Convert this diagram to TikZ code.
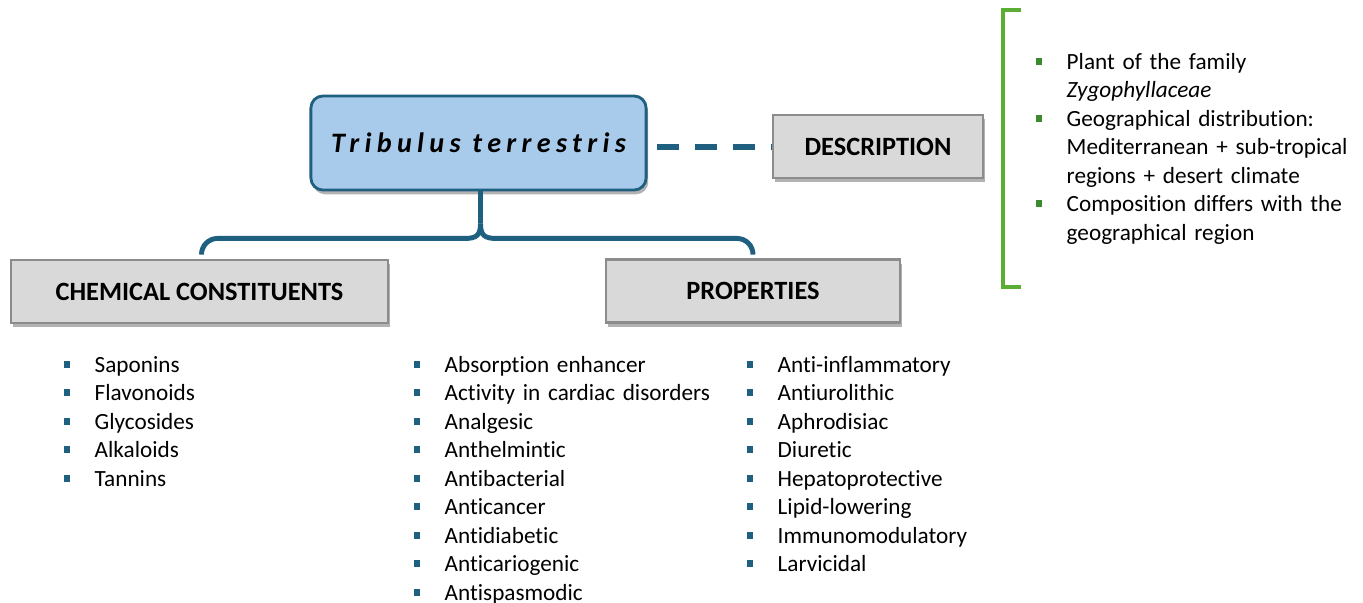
\documentclass[tikz,border=0pt]{standalone}
\usepackage{fontspec}
\setmainfont{Carlito}[RawFeature={-liga;-clig}]
\usetikzlibrary{shadows,calc}

\definecolor{titlefill}{HTML}{A9CBEB}
\definecolor{darkblue}{HTML}{1F5F80}
\definecolor{boxgray}{HTML}{D9D9D9}
\definecolor{boxline}{HTML}{8C8C8C}
\definecolor{brgreen}{HTML}{5BAE33}
\definecolor{bulgreen}{HTML}{3C8A2E}

\newenvironment{sqlist}[1]{%
  \begin{list}{\textcolor{#1}{\raisebox{1.3pt}{\rule{1.9pt}{1.9pt}}}}{%
    \setlength\leftmargin{0.31cm}\setlength\labelwidth{1.9pt}%
    \setlength\labelsep{\dimexpr0.31cm-1.9pt\relax}%
    \setlength\itemsep{0pt}\setlength\parsep{0pt}%
    \setlength\topsep{0pt}\setlength\partopsep{0pt}}}%
  {\end{list}}

\tikzset{
  boxshadow/.style={drop shadow={shadow xshift=0.6pt, shadow yshift=-1.2pt, fill=black!60, opacity=0.5}},
  titlebox/.style={draw=darkblue, fill=titlefill, line width=0.8pt, rounded corners=0.12cm,
    minimum width=3.35cm, minimum height=0.94cm, boxshadow,
    font=\fontsize{8pt}{9.5pt}\selectfont\bfseries\itshape\addfontfeature{LetterSpace=19}},
  headbox/.style={draw=boxline, fill=boxgray, line width=0.6pt, minimum height=0.63cm,
    boxshadow, font=\fontsize{7.5pt}{9pt}\selectfont\bfseries},
  listtext/.style={anchor=north west, inner sep=0pt, text width=3.2cm, align=left,
    font=\fontsize{6.6pt}{8.1pt}\selectfont},
  dashline/.style={darkblue, line width=1.7pt, dash pattern=on 0.22cm off 0.16cm},
  forkline/.style={darkblue, line width=1.4pt},
  greenbracket/.style={brgreen, line width=1.4pt, miter limit=10}
}

\begin{document}
\begin{tikzpicture}[x=0.01cm, y=-0.01cm]

\useasboundingbox (0,0) rectangle (1363,602);

% Titre
\node[titlebox] (tt) at (478.5,143) {Tribulus terrestris};

% Boites
\node[headbox, minimum width=2.10cm] (desc) at (878,146.5) {DESCRIPTION};
\node[headbox, minimum width=3.77cm] (chem) at (199.5,291.5) {CHEMICAL CONSTITUENTS};
\node[headbox, minimum width=2.94cm] (prop) at (753,291) {PROPERTIES};

% Liaison description
\draw[dashline] ($(tt.east |- desc.west)+(9,0)$) -- (desc.west);

% Accolade
\coordinate (fork) at ($(tt.south)+(2,32)$);
\draw[forkline] (tt.south -| fork) -- (fork);
\draw[forkline] (fork) .. controls +(0,12) and +(12,0) .. ++(-16,15)
  [rounded corners=0.16cm] -| ($(chem.north)+(2,-5)$);
\draw[forkline] (fork) .. controls +(0,12) and +(-12,0) .. ++(16,15)
  [rounded corners=0.16cm] -| ($(prop.north)+(0,-5)$);

% Crochet vert
\draw[greenbracket] (1021,10) -- (1003,10) -- (1003,287) -- (1021,287);

% Description
\node[listtext, text width=3.2cm] (descl) at (1035,40) {%
  \begin{sqlist}{bulgreen}
  \item Plant of the family\\ \textit{Zygophyllaceae}
  \item Geographical distribution:\\ Mediterranean + sub-tropical\\ regions + desert climate
  \item Composition differs with the\\ geographical region
  \end{sqlist}};

% Constituants
\node[listtext] (chemlist) at (63,343) {%
  \begin{sqlist}{darkblue}
  \item Saponins
  \item Flavonoids
  \item Glycosides
  \item Alkaloids
  \item Tannins
  \end{sqlist}};

% Proprietes
\node[listtext] (proplist) at (413,343) {%
  \begin{sqlist}{darkblue}
  \item Absorption enhancer
  \item Activity in cardiac disorders
  \item Analgesic
  \item Anthelmintic
  \item Antibacterial
  \item Anticancer
  \item Antidiabetic
  \item Anticariogenic
  \item Antispasmodic
  \end{sqlist}};

\node[listtext] (proplist2) at (746,343) {%
  \begin{sqlist}{darkblue}
  \item Anti-inflammatory
  \item Antiurolithic
  \item Aphrodisiac
  \item Diuretic
  \item Hepatoprotective
  \item Lipid-lowering
  \item Immunomodulatory
  \item Larvicidal
  \end{sqlist}};

\end{tikzpicture}
\end{document}
